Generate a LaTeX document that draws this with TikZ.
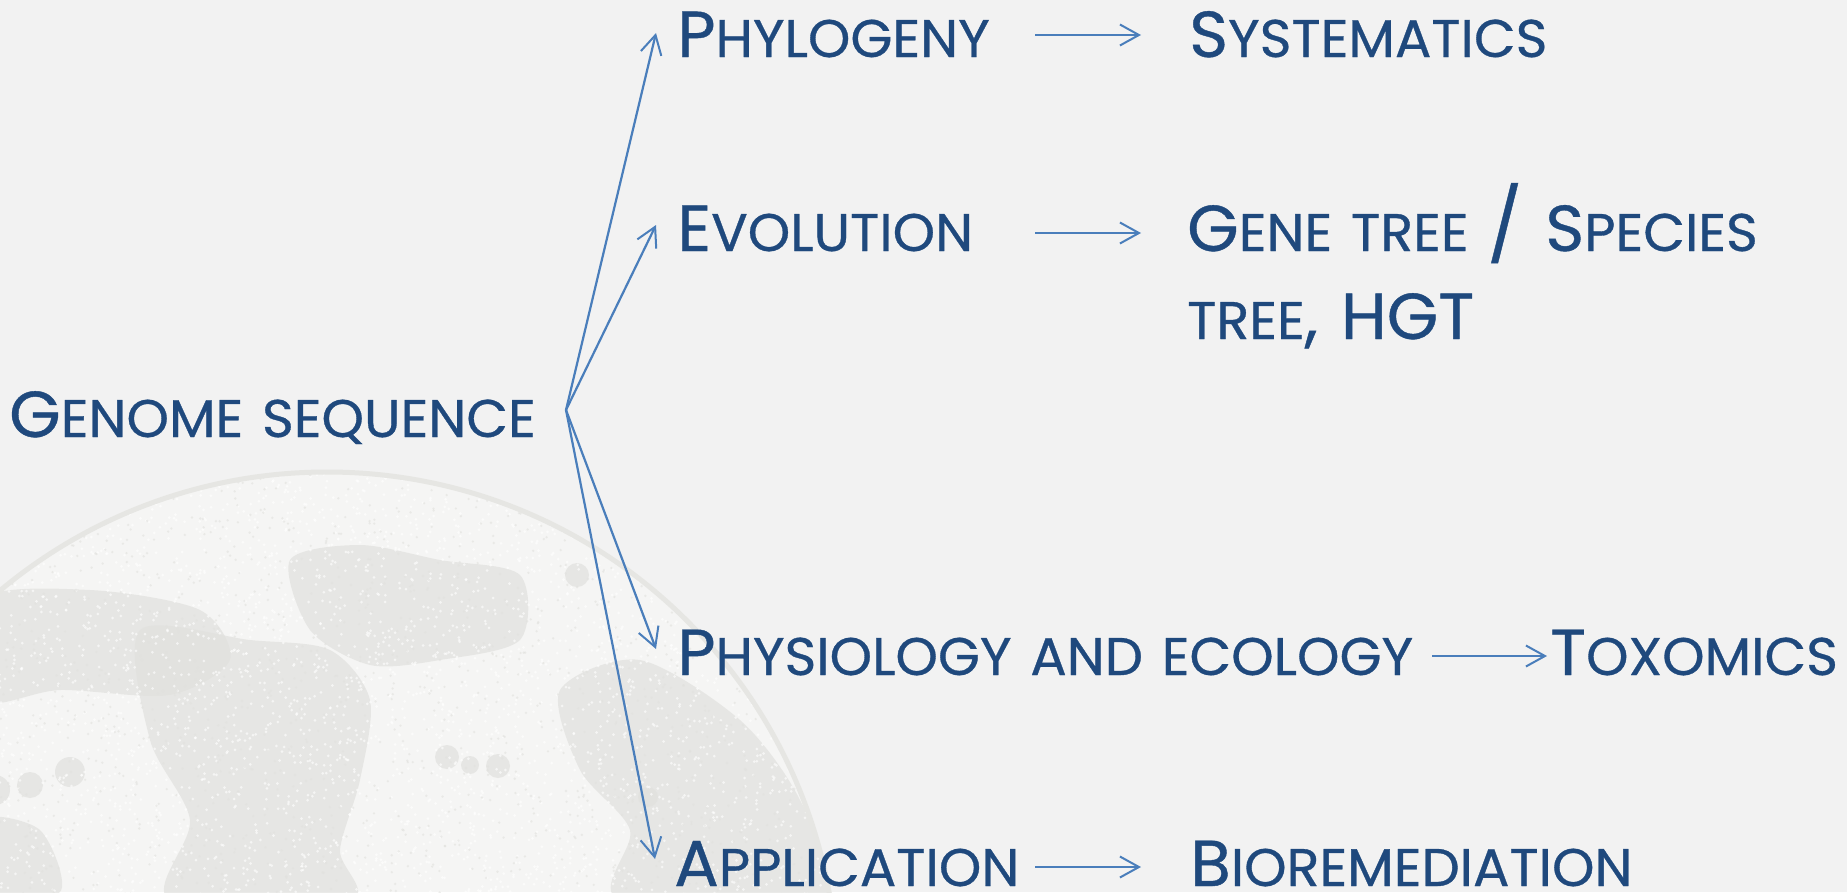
\documentclass[tikz,border=0pt]{standalone}
\usepackage{fontspec}
\setmainfont[FakeStretch=1.02, FakeBold=0.6, WordSpace=1.3]{Poppins}
\usetikzlibrary{arrows.meta}

\definecolor{bgc}{HTML}{F2F2F2}
\definecolor{ink}{HTML}{1F497D}
\definecolor{arrc}{HTML}{4A7EBB}
\definecolor{discbase}{HTML}{F5F5F4}
\definecolor{discdark}{HTML}{E1E1DE}
\definecolor{discrim}{HTML}{E6E6E3}

% small-caps look: full capital followed by reduced capitals
\newcommand\Bg[1]{{\fontsize{65}{70}\selectfont #1}}
\newcommand\Sm[1]{{\fontsize{53}{60}\selectfont #1}}
\newcommand\Sl{{\fontsize{72}{72}\selectfont /}}

\tikzset{
  label/.style={anchor=base west, inner sep=0pt, text=ink,
                font=\fontsize{53}{60}\selectfont,
                text height=46pt, text depth=0pt},
  arr/.style={draw=arrc, line width=2.2pt,
              -{Straight Barb[length=19pt,width=21pt,line width=2pt]}},
  blob/.style={fill=discdark, fill opacity=0.7},
}

\begin{document}
\begin{tikzpicture}[x=1pt, y=-1pt]
  \useasboundingbox (0,0) rectangle (1847,892);
  \fill[bgc] (0,0) rectangle (1847,892);

  % textured disc in the lower left
  \begin{scope}
    \clip (327,982) circle[radius=510pt];
    \fill[discbase] (0,0) rectangle (1847,892);
    \fill[blob] plot[smooth cycle] coordinates {(-20,600) (90,590) (200,610) (230,660) (170,695) (60,690) (-20,700)};
    \fill[blob] plot[smooth cycle] coordinates {(290,560) (360,545) (440,560) (520,575) (520,640) (440,660) (370,665) (310,630)};
    \fill[blob] plot[smooth cycle] coordinates {(140,630) (250,640) (330,650) (370,700) (360,780) (340,850) (350,900) (170,900) (190,820) (150,740)};
    \fill[blob] plot[smooth cycle] coordinates {(560,690) (640,660) (740,720) (800,800) (830,900) (620,900) (630,830) (580,770)};
    \fill[blob] plot[smooth cycle] coordinates {(-20,820) (40,830) (60,892) (-20,892)};
    \fill[blob] (-5,790) circle[radius=15pt];
    \fill[blob] (30,785) circle[radius=13pt];
    \fill[blob] (70,772) circle[radius=15pt];
    \fill[blob] (447,757) circle[radius=12pt];
    \fill[blob] (470,765) circle[radius=9pt];
    \fill[blob] (498,766) circle[radius=12pt];
    \fill[blob] (577,575) circle[radius=12pt];
    \fill[blob] (648,797) circle[radius=10pt];
    % fine speckle
    \pgfmathsetseed{7}
    \foreach \i in {1,...,3400}{
      \pgfmathsetmacro\px{rnd*860-10}
      \pgfmathsetmacro\py{rnd*430+465}
      \fill[white, opacity=0.6] (\px,\py) circle[radius=1.5pt];
    }
    \foreach \i in {1,...,1400}{
      \pgfmathsetmacro\px{rnd*860-10}
      \pgfmathsetmacro\py{rnd*430+465}
      \fill[discdark, opacity=0.6] (\px,\py) circle[radius=1.3pt];
    }
  \end{scope}
  \draw[discrim, line width=5pt] (327,982) circle[radius=510pt];

  % labels
  \node[label] (genome) at (9,437)   {\Bg{G}\Sm{ENOME SEQUENCE}};
  \node[label] (phylo)  at (677,57)  {\Bg{P}\Sm{HYLOGENY}};
  \node[label] (evol)   at (677,251) {\Bg{E}\Sm{VOLUTION}};
  \node[label] (physio) at (677,675) {\Bg{P}\Sm{HYSIOLOGY AND ECOLOGY}};
  \node[label] (appl)   at (674,886) {\Bg{A}\Sm{PPLICATION}};

  \node[label] (syst)   at (1189,57)  {\Bg{S}\Sm{YSTEMATICS}};
  \node[label] (gene)   at (1187,251) {\Bg{G}\Sm{ENE TREE }\Sl\Bg{ S}\Sm{PECIES}};
  \node[label] (gene2)  at (1187,339) {\Sm{TREE}\Bg{, HGT}};
  \node[label] (toxo)   at (1550,675) {\Bg{T}\Sm{OXOMICS}};
  \node[label] (bio)    at (1190,886) {\Bg{B}\Sm{IOREMEDIATION}};

  % fan of arrows out of the genome sequence
  \coordinate (hub) at (566,410);
  \coordinate (colA) at (1035,0);
  \coordinate (colB) at (1141,0);
  \draw[arr] (hub) -- ([xshift=-21pt,yshift=1pt]phylo.west);
  \draw[arr] (hub) -- ([xshift=-21pt,yshift=3pt]evol.west);
  \draw[arr] (hub) -- ([xshift=-21pt,yshift=3pt]physio.west);
  \draw[arr] (hub) -- ([xshift=-19pt,yshift=4pt]appl.west);

  % follow-on arrows
  \draw[arr] ([yshift=-1pt]phylo.west -| colA) -- ([yshift=-1pt]syst.west -| colB);
  \draw[arr] ([yshift=-5pt]evol.west -| colA) -- ([yshift=-5pt]gene.west -| colB);
  \draw[arr] ([xshift=19pt,yshift=-4pt]physio.east) -- ([xshift=-3pt,yshift=-4pt]toxo.west);
  \draw[arr] ([yshift=-4pt]appl.west -| colA) -- ([yshift=-4pt]bio.west -| colB);
\end{tikzpicture}
\end{document}
